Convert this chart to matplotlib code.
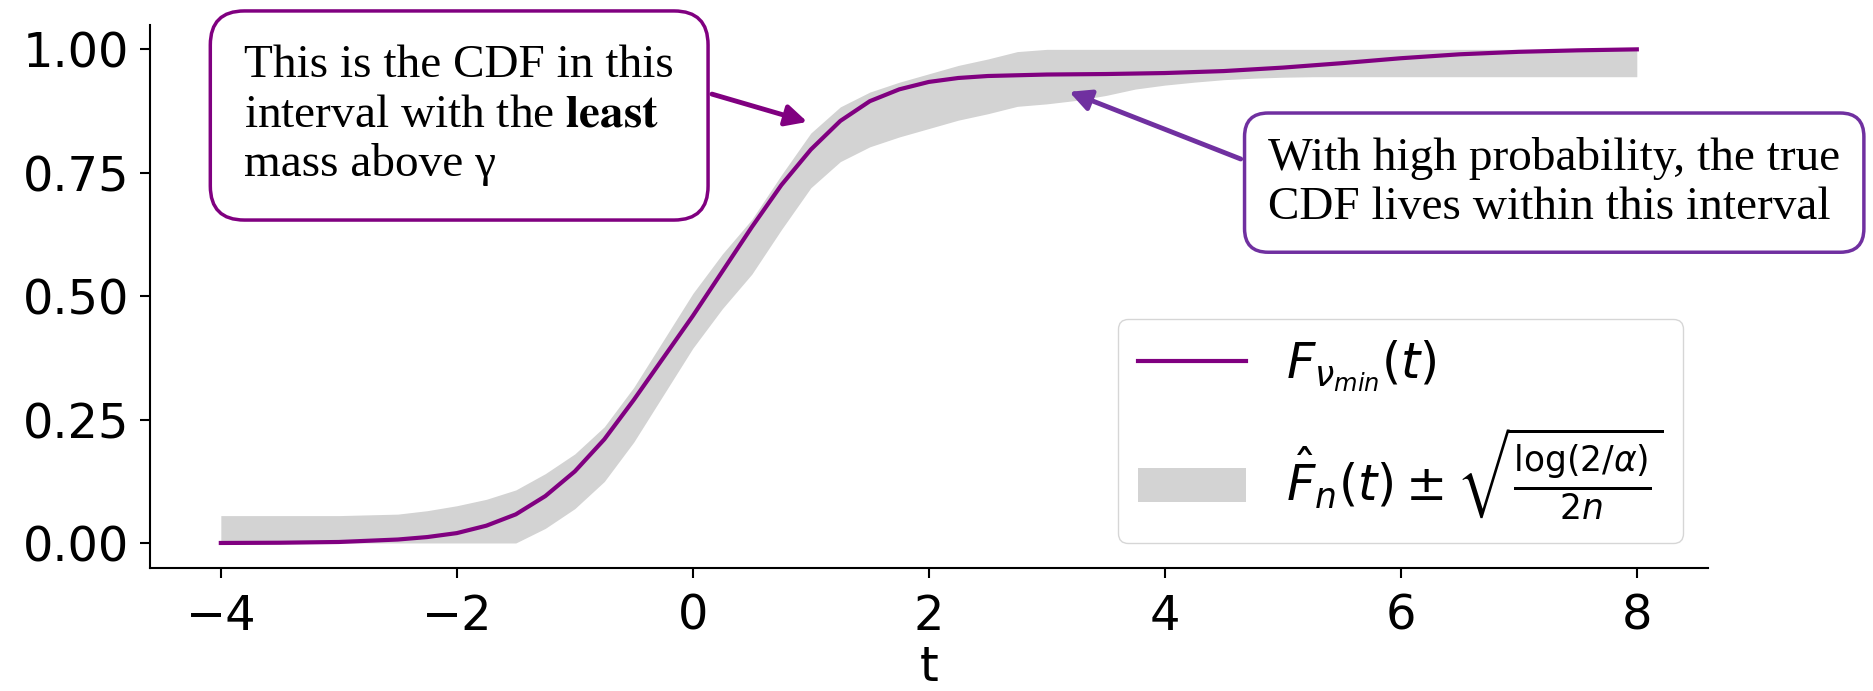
import numpy as np
import matplotlib.pyplot as plt

# lower-bound CDF curve
t_line = [-4.0, -3.5, -3.0, -2.5, -2.25, -2.0, -1.75, -1.5, -1.25, -1.0, -0.75, -0.5,
          -0.25, 0.0, 0.25, 0.5, 0.75, 1.0, 1.25, 1.5, 1.75, 2.0, 2.25, 2.5, 3.0,
          3.5, 4.0, 4.5, 5.0, 5.5, 6.0, 6.5, 7.0, 7.5, 8.0]
F_min = [0.0, 0.0005, 0.002, 0.007, 0.012, 0.02, 0.035, 0.058, 0.095, 0.145, 0.21, 0.29,
         0.375, 0.46, 0.55, 0.64, 0.725, 0.797, 0.855, 0.895, 0.919, 0.934, 0.942, 0.946, 0.949,
         0.95, 0.952, 0.956, 0.963, 0.972, 0.982, 0.99, 0.995, 0.998, 1.0]

# empirical CDF (centre of the grey band)
t_emp = [-4.0, -3.0, -2.5, -2.25, -2.0, -1.75, -1.5, -1.25, -1.0, -0.75, -0.5, -0.25,
         0.0, 0.25, 0.5, 0.75, 1.0, 1.25, 1.5, 1.75, 2.0, 2.25, 2.5, 2.75, 3.0,
         3.25, 3.5, 3.75, 4.0, 4.25, 4.5, 4.75, 5.0, 5.25, 8.0]
F_hat = [0.0, 0.0, 0.003, 0.01, 0.02, 0.033, 0.052, 0.085, 0.125, 0.18, 0.26, 0.355,
         0.45, 0.53, 0.60, 0.69, 0.775, 0.828, 0.858, 0.878, 0.895, 0.912, 0.925, 0.94, 0.945,
         0.952, 0.962, 0.975, 0.983, 0.989, 0.994, 0.997, 0.999, 1.0, 1.0]

alpha = 0.05
n = 600
eps = np.sqrt(np.log(2 / alpha) / (2 * n))

lower = np.clip(np.array(F_hat) - eps, 0, 1)
upper = np.clip(np.array(F_hat) + eps, 0, 1)

fs = 34.5

fig = plt.figure(figsize=(18.73, 6.91), dpi=100)
ax = fig.add_axes([0.0801, 0.1785, 0.8316, 0.7858])

ax.fill_between(t_emp, lower, upper, color='lightgrey', lw=0,
                label=r'$\hat{F}_n(t) \pm \sqrt{\frac{\log(2/\alpha)}{2n}}$')
ax.plot(t_line, F_min, color='purple', lw=3, label=r'$F_{\nu_{min}}(t)$')

ax.spines['top'].set_visible(False)
ax.spines['right'].set_visible(False)
for s in ['left', 'bottom']:
    ax.spines[s].set_linewidth(1.5)
ax.tick_params(labelsize=fs, length=7, width=1.5, pad=8)
ax.tick_params(axis='x', pad=11)
ax.set_yticks([0, 0.25, 0.5, 0.75, 1.0])
ax.set_xlabel('t', fontsize=fs, labelpad=3)

handles, labels = ax.get_legend_handles_labels()
ax.legend(handles[::-1], labels[::-1], loc='lower right', fontsize=35.5,
          handlelength=2.2, labelspacing=0.65)

ax.annotate('This is the CDF in this\ninterval with the $\\mathbf{least}$\nmass above γ',
            xy=(0.97, 0.853), xytext=(-1.98, 0.866), textcoords='data',
            ha='center', va='center', multialignment='left',
            family='Liberation Serif', fontsize=34, math_fontfamily='stix',
            bbox=dict(boxstyle='round,pad=0.72', fc='white', ec='purple', lw=2.5),
            arrowprops=dict(arrowstyle='-|>', color='purple', lw=3.5,
                            mutation_scale=32, relpos=(1.0, 0.73), shrinkB=0))

ax.annotate('With high probability, the true\nCDF lives within this interval',
            xy=(3.19, 0.914), xytext=(7.30, 0.73), textcoords='data',
            ha='center', va='center', multialignment='left',
            family='Liberation Serif', fontsize=34,
            bbox=dict(boxstyle='round,pad=0.5', fc='white', ec='#7030a0', lw=2.5),
            arrowprops=dict(arrowstyle='-|>', color='#7030a0', lw=3.5,
                            mutation_scale=32, relpos=(0.0, 0.64), shrinkB=0))

fig.savefig('out.png', dpi=100)
